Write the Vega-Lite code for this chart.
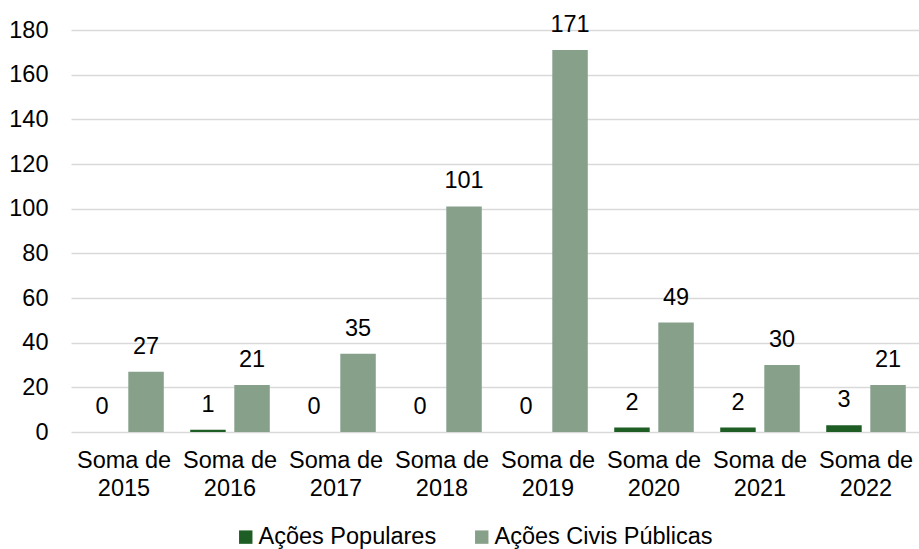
{
  "$schema": "https://vega.github.io/schema/vega-lite/v6.json",
  "width": 848,
  "height": 402,
  "autosize": {"type": "none"},
  "padding": {"left": 71, "top": 30, "right": 0, "bottom": 117},
  "background": "white",
  "config": {
    "font": "Liberation Sans",
    "view": {"stroke": null}
  },
  "data": {
    "values": [
      {"cat": "Soma de 2015", "serie": "Ações Populares", "valor": 0},
      {"cat": "Soma de 2015", "serie": "Ações Civis Públicas", "valor": 27},
      {"cat": "Soma de 2016", "serie": "Ações Populares", "valor": 1},
      {"cat": "Soma de 2016", "serie": "Ações Civis Públicas", "valor": 21},
      {"cat": "Soma de 2017", "serie": "Ações Populares", "valor": 0},
      {"cat": "Soma de 2017", "serie": "Ações Civis Públicas", "valor": 35},
      {"cat": "Soma de 2018", "serie": "Ações Populares", "valor": 0},
      {"cat": "Soma de 2018", "serie": "Ações Civis Públicas", "valor": 101},
      {"cat": "Soma de 2019", "serie": "Ações Populares", "valor": 0},
      {"cat": "Soma de 2019", "serie": "Ações Civis Públicas", "valor": 171},
      {"cat": "Soma de 2020", "serie": "Ações Populares", "valor": 2},
      {"cat": "Soma de 2020", "serie": "Ações Civis Públicas", "valor": 49},
      {"cat": "Soma de 2021", "serie": "Ações Populares", "valor": 2},
      {"cat": "Soma de 2021", "serie": "Ações Civis Públicas", "valor": 30},
      {"cat": "Soma de 2022", "serie": "Ações Populares", "valor": 3},
      {"cat": "Soma de 2022", "serie": "Ações Civis Públicas", "valor": 21}
    ]
  },
  "encoding": {
    "x": {
      "field": "cat",
      "type": "nominal",
      "sort": null,
      "title": null,
      "scale": {"paddingInner": 0, "paddingOuter": 0},
      "axis": {
        "labelAngle": 0,
        "labelExpr": "['Soma de', substring(datum.value, 8)]",
        "labelFontSize": 23.5,
        "labelLineHeight": 28,
        "labelColor": "#000000",
        "labelPadding": 16,
        "labelLimit": 0,
        "ticks": false,
        "domain": false,
        "grid": false
      }
    },
    "xOffset": {
      "field": "serie",
      "type": "nominal",
      "sort": ["Ações Populares", "Ações Civis Públicas"],
      "scale": {"paddingInner": 0.195, "paddingOuter": 0.3}
    },
    "y": {
      "field": "valor",
      "type": "quantitative",
      "title": null,
      "scale": {"domain": [0, 180], "nice": false},
      "axis": {
        "values": [0, 20, 40, 60, 80, 100, 120, 140, 160, 180],
        "labelFontSize": 23.5,
        "labelColor": "#000000",
        "labelPadding": 23,
        "ticks": false,
        "domain": false,
        "grid": true,
        "gridColor": "#d9d9d9",
        "gridWidth": 1.5
      }
    }
  },
  "layer": [
    {
      "mark": {"type": "bar"},
      "encoding": {
        "color": {
          "field": "serie",
          "type": "nominal",
          "sort": ["Ações Populares", "Ações Civis Públicas"],
          "scale": {
            "domain": ["Ações Populares", "Ações Civis Públicas"],
            "range": ["#1e5e25", "#87a08a"]
          },
          "legend": {
            "title": null,
            "orient": "none",
            "legendX": 163,
            "legendY": 495,
            "direction": "horizontal",
            "symbolType": "square",
            "symbolSize": 180,
            "symbolOpacity": 1,
            "symbolStrokeWidth": 0,
            "labelFontSize": 23.5,
            "labelColor": "#000000",
            "labelOffset": 1,
            "labelLimit": 0,
            "columnPadding": 33
          }
        }
      }
    },
    {
      "mark": {"type": "text", "baseline": "bottom", "dy": -13, "fontSize": 23.5, "color": "#000000"},
      "encoding": {
        "text": {"field": "valor", "type": "quantitative"}
      }
    }
  ]
}
